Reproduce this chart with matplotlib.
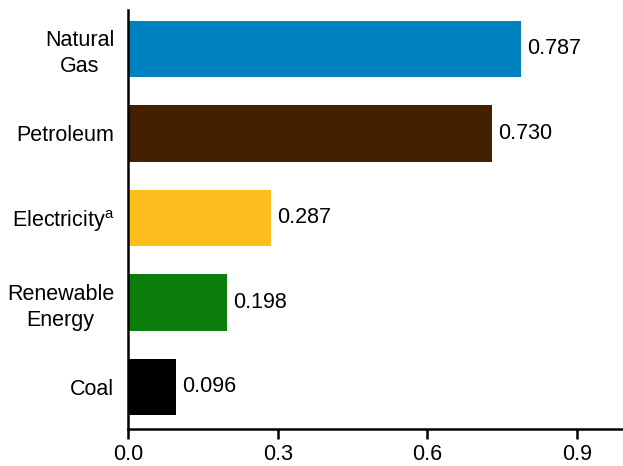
import matplotlib
matplotlib.use("Agg")
import matplotlib.pyplot as plt

plt.rcParams['font.family'] = ['Liberation Sans', 'DejaVu Sans']
plt.rcParams['mathtext.fontset'] = 'custom'
plt.rcParams['mathtext.rm'] = 'Liberation Sans'

categories = ["Coal", "Renewable\nEnergy", "Electricity$^{\\mathrm{a}}$", "Petroleum", "Natural\nGas"]
values = [0.096, 0.198, 0.287, 0.730, 0.787]
labels = ["0.096", "0.198", "0.287", "0.730", "0.787"]
colors = ["#000000", "#0B7D0B", "#FDBD1C", "#432100", "#0082C1"]
xticks = [0.0, 0.3, 0.6, 0.9]

fs = 15.5
fig = plt.figure(figsize=(6.23, 4.66), dpi=100)
ax = fig.add_axes([0.2055, 0.079, 0.7925, 0.8995])

pos = list(range(len(categories)))
ax.barh(pos, values, height=0.67, color=colors)
for p, v, t in zip(pos, values, labels):
    ax.annotate(t, (v, p), xytext=(4.5, 0), textcoords="offset points",
                va="center", ha="left", fontsize=fs)

ax.set_yticks(pos)
ax.set_yticklabels(categories, fontsize=fs, linespacing=1.3, multialignment="center")
ax.set_xticks(xticks)
ax.set_xticklabels(["%.1f" % x for x in xticks], fontsize=fs)
ax.set_xlim(0, 0.99)
ax.set_ylim(-0.5, 4.46)

for s in ["top", "right"]:
    ax.spines[s].set_visible(False)
ax.spines["left"].set_linewidth(1.8)
ax.spines["bottom"].set_linewidth(1.8)
ax.tick_params(axis="y", length=0, pad=10)
ax.tick_params(axis="x", length=7, width=1.8, pad=3.5)

fig.savefig("out.png", dpi=100)
